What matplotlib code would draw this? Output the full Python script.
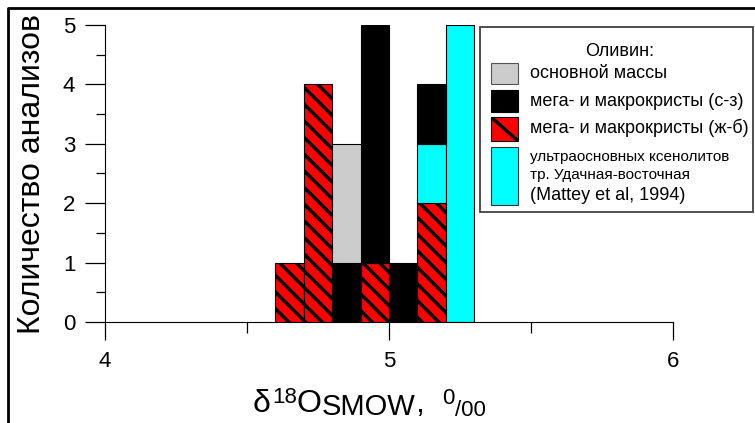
import matplotlib.pyplot as plt
import numpy as np
from matplotlib.patches import Rectangle
from matplotlib.lines import Line2D

plt.rcParams['font.family'] = ['Liberation Sans', 'DejaVu Sans']
plt.rcParams['hatch.linewidth'] = 2.5

# histogram bins (left edges), width 0.1 permil
bin_left = [4.6, 4.7, 4.8, 4.9, 5.0, 5.1, 5.2]
bin_width = 0.1

# counts per bin, in stacking order (bottom to top)
zhb = [1, 4, 0, 1, 0, 2, 0]        # мега- и макрокристы (ж-б)
mattey = [0, 0, 0, 0, 0, 1, 5]     # ксенолиты, Mattey et al, 1994
sz = [0, 0, 1, 4, 1, 1, 0]         # мега- и макрокристы (с-з)
groundmass = [0, 0, 2, 0, 0, 0, 0] # основной массы

series = [
    (zhb, dict(facecolor='#ff0000', hatch='\\\\')),
    (mattey, dict(facecolor='#00ffff')),
    (sz, dict(facecolor='#000000')),
    (groundmass, dict(facecolor='#cccccc')),
]

fig = plt.figure(figsize=(7.55, 4.23), dpi=100)
ax = fig.add_axes([105/755, 1 - 322/423, 568/755, 297/423])

bottom = np.zeros(len(bin_left))
for vals, style in series:
    vals = np.array(vals, dtype=float)
    m = vals > 0
    ax.bar(np.array(bin_left)[m], vals[m], width=bin_width, bottom=bottom[m],
           align='edge', edgecolor='black', linewidth=0.8, **style)
    bottom += vals

ax.set_xlim(4, 6)
ax.set_ylim(0, 5)
ax.spines['top'].set_visible(False)
ax.spines['right'].set_visible(False)
ax.spines['left'].set_bounds(0, 5)

ax.set_xticks([4, 5, 6])
ax.set_xticks([4.5, 5.5], minor=True)
ax.set_yticks([0, 1, 2, 3, 4, 5])
ax.set_yticks([0.5, 1.5, 2.5, 3.5, 4.5], minor=True)
ax.tick_params(axis='x', which='major', length=13, width=0.9, pad=8, labelsize=16)
ax.tick_params(axis='x', which='minor', length=8, width=0.9)
ax.tick_params(axis='y', which='major', length=14.4, width=0.9, pad=7, labelsize=16)
ax.tick_params(axis='y', which='minor', length=6.5, width=0.9)

ax.set_ylabel('Количество анализов', fontsize=23, labelpad=11)

# overlay in pixel coordinates for legend, x label and frame
lax = fig.add_axes([0, 0, 1, 1])
lax.set_xlim(0, 755)
lax.set_ylim(423, 0)
lax.axis('off')
lax.patch.set_alpha(0)

# x label built from runs: (text, size, baseline shift up in px, gap after)
xlabel_runs = [
    ('δ', 23, 0, 1),
    ('18', 16, 9, 0),
    ('O', 23, 0, 0),
    ('SMOW', 21, -3, 0),
    (',', 23, 0, 18),
    ('0', 16, 8, 0),
    ('/00', 16, -4, 0),
]
renderer = fig.canvas.get_renderer()
x = 253
for s, size, dy, gap in xlabel_runs:
    t = lax.text(x, 412 - dy, s, fontsize=size, va='baseline')
    x += t.get_window_extent(renderer).width + gap

lax.add_patch(Rectangle((480, 27), 273, 185, facecolor='white',
                        edgecolor='#404040', linewidth=1.3))
lax.text(620, 52, 'Оливин:', ha='center', va='center', fontsize=13)

lax.add_patch(Rectangle((491, 63), 27, 21, facecolor='#cccccc',
                        edgecolor='#555555', linewidth=0.8))
lax.text(530, 74, 'основной массы', va='center', fontsize=13)

lax.add_patch(Rectangle((491, 90), 27, 22, facecolor='black',
                        edgecolor='black', linewidth=0.8))
lax.text(530, 101, 'мега- и макрокристы (с-з)', va='center', fontsize=13)

red_key = Rectangle((491, 117), 27, 24, facecolor='#ff0000',
                    edgecolor='black', linewidth=0.8)
lax.add_patch(red_key)
diag = Line2D([491, 518], [117, 141], color='black', linewidth=2.5,
              solid_capstyle='butt')
lax.add_line(diag)
diag.set_clip_path(red_key)
lax.text(530, 128, 'мега- и макрокристы (ж-б)', va='center', fontsize=13)

lax.add_patch(Rectangle((491, 147), 27, 58, facecolor='#00ffff',
                        edgecolor='#333333', linewidth=0.8))
lax.text(530, 157, 'ультраосновных ксенолитов', va='center', fontsize=11)
lax.text(530, 175, 'тр. Удачная-восточная', va='center', fontsize=11)
lax.text(530, 195, '(Mattey et al, 1994)', va='center', fontsize=13)

# frame along the left and top edges
lax.add_line(Line2D([8, 8, 755], [423, 8, 8], color='black', linewidth=2))

fig.savefig('out.png', dpi=100)
